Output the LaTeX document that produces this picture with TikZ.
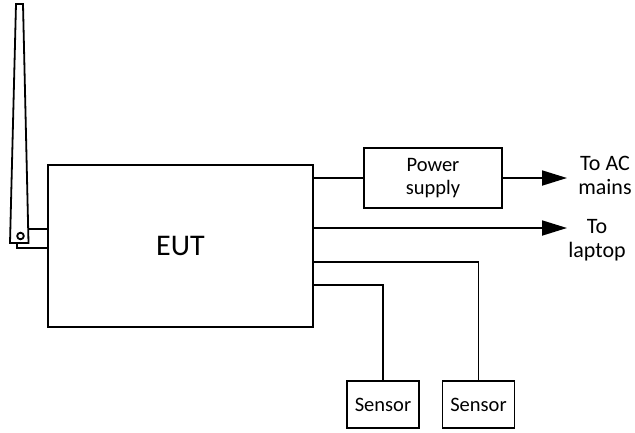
\documentclass[tikz,border=0pt]{standalone}
\usepackage{fontspec}
\setmainfont{Carlito}
\usetikzlibrary{arrows.meta}

\begin{document}
\begin{tikzpicture}[x=1pt, y=-1pt, line width=1.8pt,
  box/.style={draw, inner sep=0pt, align=center},
  smalltxt/.style={font=\fontsize{20.5}{23}\selectfont},
  label/.style={inner sep=0pt, align=center, anchor=north, font=\fontsize{22}{24}\selectfont},
  arr/.style={-{Triangle[length=25pt, width=15pt]}}]
\useasboundingbox (0,0) rectangle (635,432);

% antenna
\draw (16,4) -- (23,4) -- (28.5,243) -- (10,243) -- cycle;
\draw (20.5,236) circle[radius=3.3pt];
\coordinate (ant1) at (28.2,229);
\coordinate (ant2) at (17,243);

\node[box, minimum width=265, minimum height=162, font=\fontsize{30}{36}\selectfont] at (180.5,246) (eut) {EUT};
\node[box, smalltxt, minimum width=138, minimum height=60] at (433,178) (ps) {Power\\supply};
\node[box, smalltxt, minimum width=72, minimum height=47] at (383,404.5) (s1) {Sensor};
\node[box, smalltxt, minimum width=72, minimum height=47] at (478.5,404.5) (s2) {Sensor};

\node[label] at (605,155) (ac) {To AC\\mains};
\node[label] at (597,218) (lap) {To\\laptop};
\coordinate (acend) at (567,178);
\coordinate (lapend) at (567,228);

\draw (ant1) -- (eut.west |- ant1);
\draw (ant2) |- (eut.west |- 0,248);
\draw (eut.east |- ps.west) -- (ps.west);
\draw[arr] (ps.east) -- (acend);
\draw[arr] (eut.east |- lapend) -- (lapend);
\draw (eut.east |- 0,262) -| (s2.north);
\draw (eut.east |- 0,285) -| (s1.north);
\end{tikzpicture}
\end{document}
